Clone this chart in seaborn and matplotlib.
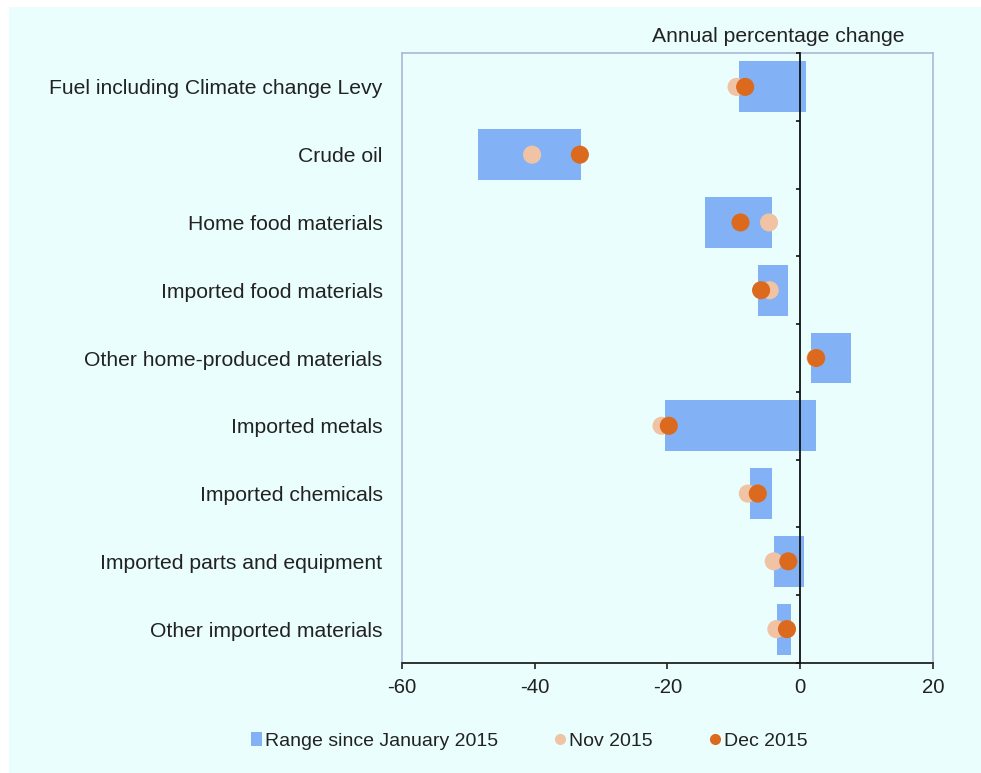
import matplotlib
matplotlib.use("Agg")
import matplotlib.pyplot as plt
import seaborn as sns
import pandas as pd
from matplotlib.patches import Rectangle, Patch
from matplotlib.lines import Line2D

categories = [
    "Fuel including Climate change Levy",
    "Crude oil",
    "Home food materials",
    "Imported food materials",
    "Other home-produced materials",
    "Imported metals",
    "Imported chemicals",
    "Imported parts and equipment",
    "Other imported materials",
]
range_low = [-9.3, -48.6, -14.3, -6.4, 1.6, -20.4, -7.6, -4.0, -3.5]
range_high = [0.9, -33.1, -4.2, -1.8, 7.6, 2.3, -4.2, 0.6, -1.4]
nov_2015 = [-9.6, -40.4, -4.7, -4.6, 2.3, -20.9, -7.9, -4.0, -3.6]
dec_2015 = [-8.3, -33.2, -9.0, -5.9, 2.4, -19.8, -6.4, -1.8, -2.0]
x_ticks = [-60, -40, -20, 0, 20]

BG = "#ebfefe"
BAR = "#82b2f5"
NOV = "#f0c3a5"
DEC = "#db6a1e"
FRAME = "#a9b9d6"

sns.set_theme(style="white")
plt.rcParams["font.family"] = ["Liberation Sans", "DejaVu Sans"]
FS = 15.2
FS_LEG = 14.0

df = pd.DataFrame({
    "category": categories,
    "low": range_low,
    "high": range_high,
    "nov": nov_2015,
    "dec": dec_2015,
})
df["width"] = df["high"] - df["low"]
df["pos"] = range(len(df))

W, H = 981, 773
fig = plt.figure(figsize=(W / 100, H / 100), dpi=100, facecolor="white")
fig.patches.append(Rectangle((9 / W, 0), 1 - 9 / W, 1 - 7 / H,
                             transform=fig.transFigure, facecolor=BG,
                             edgecolor="none", zorder=-10))

ax = fig.add_axes([402 / W, 1 - 663 / H, (933 - 402) / W, (663 - 53) / H])
ax.set_facecolor(BG)

ax.barh(df["pos"], df["width"], left=df["low"], height=0.75,
        color=BAR, edgecolor="none", zorder=2)
sns.scatterplot(data=df, x="nov", y="pos", ax=ax, color=NOV, s=170,
                edgecolor="none", linewidth=0, zorder=3, legend=False)
sns.scatterplot(data=df, x="dec", y="pos", ax=ax, color=DEC, s=170,
                edgecolor="none", linewidth=0, zorder=4, legend=False)

ax.set_xlim(-60, 20)
ax.set_ylim(len(df) - 0.5, -0.5)
ax.set_xticks(x_ticks)
ax.set_xticklabels([str(t) for t in x_ticks], fontsize=FS - 0.5, color="#222222")
ax.set_yticks(df["pos"])
ax.set_yticklabels(categories, fontsize=FS, color="#222222")
ax.set_xlabel("")
ax.set_ylabel("")
ax.tick_params(axis="y", length=0, pad=14)
ax.tick_params(axis="x", direction="out", length=4.5, width=1.2,
               color="#222222", pad=6, bottom=True)
for s in ["left", "top", "right"]:
    ax.spines[s].set_color(FRAME)
    ax.spines[s].set_linewidth(1.2)
ax.spines["bottom"].set_color("#222222")
ax.spines["bottom"].set_linewidth(1.3)

# zero line with category boundary ticks
ax2 = ax.twinx()
ax2.set_ylim(ax.get_ylim())
ax2.spines["right"].set_position(("data", 0))
ax2.spines["right"].set_color("#111111")
ax2.spines["right"].set_linewidth(1.3)
for s in ["left", "top", "bottom"]:
    ax2.spines[s].set_visible(False)
ax2.set_yticks([p - 0.5 for p in range(len(df) + 1)])
ax2.tick_params(axis="y", direction="in", length=3, width=1.2,
                color="#111111", labelright=False)
ax2.set_xlim(-60, 20)

fig.text(905 / W, 1 - 37 / H, "Annual percentage change", ha="right",
         va="center", fontsize=FS, color="#222222")

handles = [
    Patch(facecolor=BAR, edgecolor="none", label="Range since January 2015"),
    Line2D([], [], linestyle="none", marker="o", markersize=8,
           markerfacecolor=NOV, markeredgecolor="none", label="Nov 2015"),
    Line2D([], [], linestyle="none", marker="o", markersize=8,
           markerfacecolor=DEC, markeredgecolor="none", label="Dec 2015"),
]
leg = fig.legend(handles=handles, loc="center",
                 bbox_to_anchor=(529 / W, 1 - 741 / H), ncol=3, frameon=False,
                 fontsize=FS_LEG, handlelength=0.6, handleheight=0.7,
                 handletextpad=0.15, columnspacing=2.9, borderpad=0)
for t in leg.get_texts():
    t.set_color("#222222")

fig.savefig("out.png", dpi=100, facecolor="white")
